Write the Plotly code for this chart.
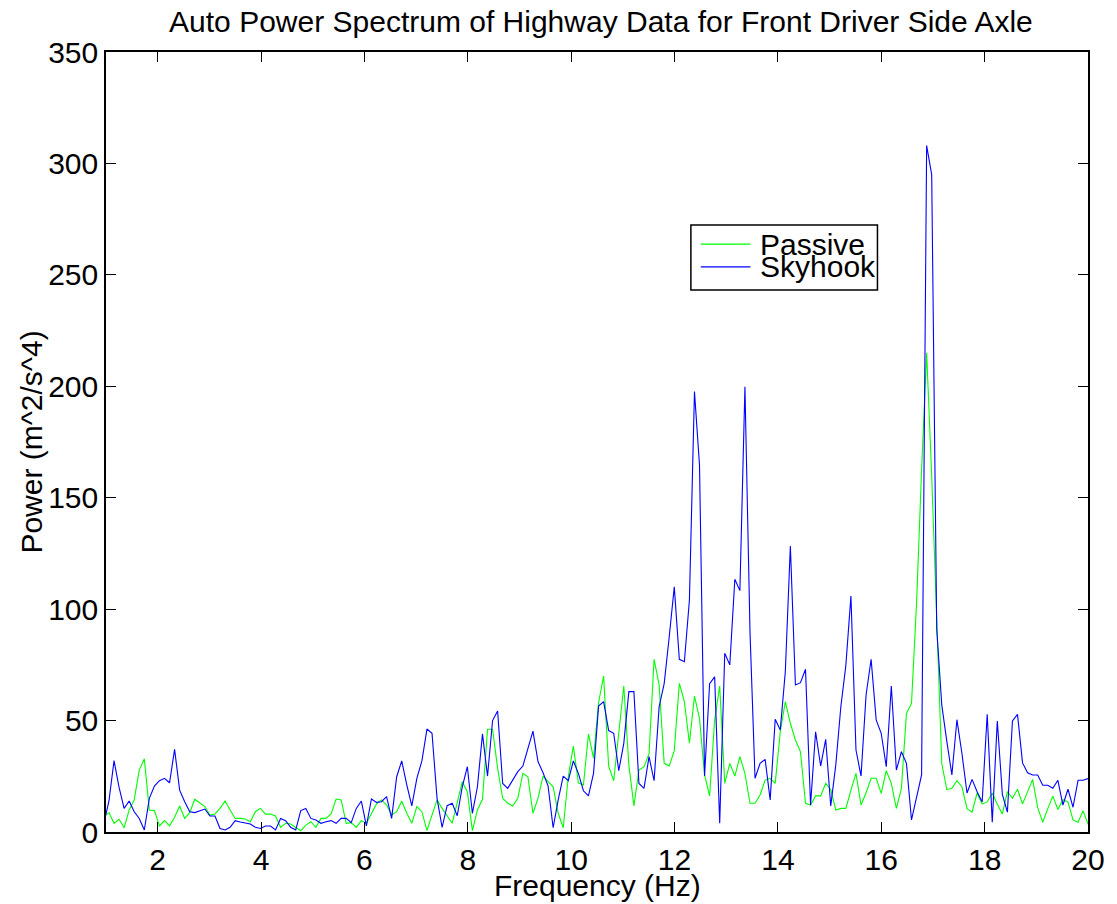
import numpy as np
import plotly.graph_objects as go

# Frequency bins of the spectral estimate (Hz)
bin_width = 100.0 / 1024.0
first_bin = 0.96
n_bins = 196
freq = first_bin + bin_width * np.arange(n_bins)

# Auto power spectrum, passive suspension (m^2/s^4)
passive = [
    7, 8.7, 3.9, 5.7, 1.9, 9.9, 14.4, 27.8, 32.8, 9.9,
    9.6, 2.7, 5.1, 2.8, 6.6, 11.7, 6.1, 8.7, 14.7, 12.9,
    11.4, 7.6, 8.1, 10.6, 13.9, 9.9, 6.1, 6.1, 5.8, 4.6,
    9.1, 10.6, 8.0, 8.1, 7.2, 2.1, 3.9, 3.6, 2.1, 0.6,
    3.1, 4.6, 2.1, 6.1, 6.1, 8.1, 14.8, 14.4, 3.9, 4.2,
    2.1, 5.1, 3.9, 8.1, 12.6, 14.4, 12.1, 7.6, 9.1, 13.9,
    8.4, 3.9, 11.4, 9.1, 0.6, 7.6, 14.4, 10.6, 7.2, 3.9,
    13.2, 22.6, 18.1, 0.6, 9.9, 14.7, 46.1, 46.1, 28.6, 15.1,
    12.9, 11.7, 15.1, 26.3, 24.8, 8.4, 15.1, 25.1, 22.6, 20.3,
    8.4, 1.9, 24.8, 38.6, 22.1, 21.1, 44.0, 33.1, 58.0, 70.0,
    29.5, 23.0, 44.3, 65.5, 30.1, 11.7, 27.8, 29.3, 35.0, 77.5,
    66.0, 30.8, 29.6, 36.5, 66.7, 58.5, 39.8, 61.0, 51.0, 25.6,
    16.2, 50.3, 65.5, 21.8, 30.8, 25.1, 33.8, 26.3, 12.9, 12.9,
    16.6, 23.3, 24.1, 21.8, 45.0, 58.5, 48.8, 41.3, 36.0, 12.9,
    12.1, 16.2, 16.2, 21.8, 19.1, 9.9, 10.6, 10.6, 18.8, 26.3,
    12.1, 17.6, 24.1, 24.1, 17.3, 27.5, 21.8, 10.6, 19.6, 53.2,
    57.7, 102.6, 162.4, 215.0, 160.0, 92.0, 30.6, 19.0, 19.6, 23.0,
    20.2, 10.5, 8.9, 17.5, 12.5, 13.5, 17.5, 12.5, 8.1, 18.1,
    15.1, 19.2, 12.5, 18.1, 23.6, 10.9, 4.4, 10.5, 16.1, 10.1,
    14.5, 13.5, 5.4, 4.4, 9.5, 3.4,
]

# Auto power spectrum, skyhook-controlled suspension (m^2/s^4)
skyhook = [
    4, 14, 32, 20, 10.6, 13.9, 9.1, 6.1, 0.9, 15.1,
    20.6, 23.0, 24.1, 22.1, 37.1, 18.8, 13.6, 9.1, 8.7, 9.6,
    10.3, 7.2, 7.2, 1.6, 0.9, 2.1, 5.1, 4.5, 4.2, 3.6,
    2.1, 1.6, 2.7, 2.7, 0.9, 6.1, 5.1, 2.1, 0.9, 9.6,
    10.6, 6.1, 5.4, 3.9, 4.6, 5.1, 3.9, 6.1, 6.1, 4.2,
    10.6, 13.9, 2.7, 14.8, 13.3, 13.6, 15.9, 6.1, 24.8, 31.9,
    21.1, 11.7, 24.1, 31.9, 46.2, 44.3, 15.1, 2.1, 11.8, 12.9,
    7.3, 20.3, 29.3, 8.4, 20.3, 44.0, 25.1, 50.0, 54.3, 21.8,
    19.6, 23.6, 27.1, 29.6, 37.5, 45.3, 31.6, 26.6, 20.6, 1.9,
    14.4, 25.1, 23.0, 31.9, 26.3, 18.5, 16.2, 26.3, 56.5, 58.5,
    45.5, 44.3, 27.5, 39.8, 63.0, 63.0, 21.8, 19.6, 33.8, 23.0,
    56.2, 66.6, 87.6, 110.0, 77.5, 76.4, 104.1, 197.6, 164.6, 25.1,
    66.6, 69.6, 3.9, 80.2, 75.0, 113.4, 108.3, 199.8, 90.0, 24.1,
    30.8, 32.6, 14.4, 50.6, 45.8, 71.9, 128.3, 66.0, 67.0, 73.0,
    12.1, 45.0, 29.6, 41.6, 11.7, 30.1, 56.2, 74.9, 105.9, 36.8,
    25.1, 61.5, 77.5, 50.3, 44.3, 29.3, 65.5, 27.8, 36.0, 30.8,
    5.4, 15.9, 25.6, 308.0, 295.0, 91.1, 56.9, 40.7, 25.6, 50.4,
    35.1, 17.5, 23.6, 18.1, 13.5, 52.8, 4.4, 49.8, 16.9, 8.9,
    49.8, 52.8, 31.0, 26.6, 25.6, 25.6, 21.0, 21.0, 19.6, 23.2,
    12.1, 19.2, 11.1, 23.2, 23.2, 24.0,
]

series_names = ["Passive", "Skyhook"]
series_colors = ["#00ff00", "#0000ff"]

x_ticks = [2, 4, 6, 8, 10, 12, 14, 16, 18, 20]
y_ticks = [0, 50, 100, 150, 200, 250, 300, 350]

FONT = "Arial, 'Liberation Sans', Helvetica, sans-serif"
FS = 30

fig = go.Figure()
for name, vals, col in zip(series_names, [passive, skyhook], series_colors):
    fig.add_trace(go.Scatter(
        x=freq, y=vals, mode="lines", name=name,
        line=dict(color=col, width=1.1),
        showlegend=False,
    ))

axis_common = dict(
    showline=True, linecolor="black", linewidth=1.5,
    mirror="ticks", ticks="inside", ticklen=10, tickwidth=1, tickcolor="black",
    showgrid=False, zeroline=False,
    tickfont=dict(family=FONT, size=FS, color="black"),
)

fig.update_xaxes(range=[1, 20], tickvals=x_ticks,
                 ticktext=[str(v) for v in x_ticks], **axis_common)
fig.update_yaxes(range=[0, 350], tickvals=y_ticks,
                 ticktext=[str(v) for v in y_ticks], **axis_common)

# Legend box drawn in paper coordinates
lx0, lx1 = 0.5956, 0.7856
ly0, ly1 = 0.6949, 0.7782
shapes = [
    dict(type="rect", xref="paper", yref="paper", x0=lx0, x1=lx1, y0=ly0, y1=ly1,
         line=dict(color="black", width=1.5), fillcolor="white", layer="above"),
]
legend_rows = [0.7538, 0.7244]
for yy, col in zip(legend_rows, series_colors):
    shapes.append(dict(type="line", xref="paper", yref="paper",
                       x0=0.6057, x1=0.6562, y0=yy, y1=yy,
                       line=dict(color=col, width=1.2), layer="above"))

annotations = [
    dict(text="Frequency (Hz)", xref="paper", yref="paper", x=0.5, y=-0.0685,
         xanchor="center", yanchor="middle", showarrow=False,
         font=dict(family=FONT, size=FS, color="black")),
    dict(text="Power (m^2/s^4)", xref="paper", yref="paper", x=-0.0768, y=0.5,
         xanchor="center", yanchor="middle", textangle=-90, showarrow=False,
         font=dict(family=FONT, size=FS, color="black")),
]
for yy, name in zip(legend_rows, series_names):
    annotations.append(dict(text=name, xref="paper", yref="paper", x=0.6643, y=yy,
                            xanchor="left", yanchor="middle", showarrow=False,
                            font=dict(family=FONT, size=FS, color="black")))

fig.update_layout(
    width=1117, height=904,
    margin=dict(l=106, r=22, t=52, b=72),
    paper_bgcolor="white", plot_bgcolor="white",
    title=dict(text="Auto Power Spectrum of Highway Data for Front Driver Side Axle",
               x=0.538, xanchor="center", y=1 - 21 / 904, yanchor="middle",
               font=dict(family=FONT, size=FS, color="black")),
    shapes=shapes,
    annotations=annotations,
    showlegend=False,
)

fig.write_html("out.html")
